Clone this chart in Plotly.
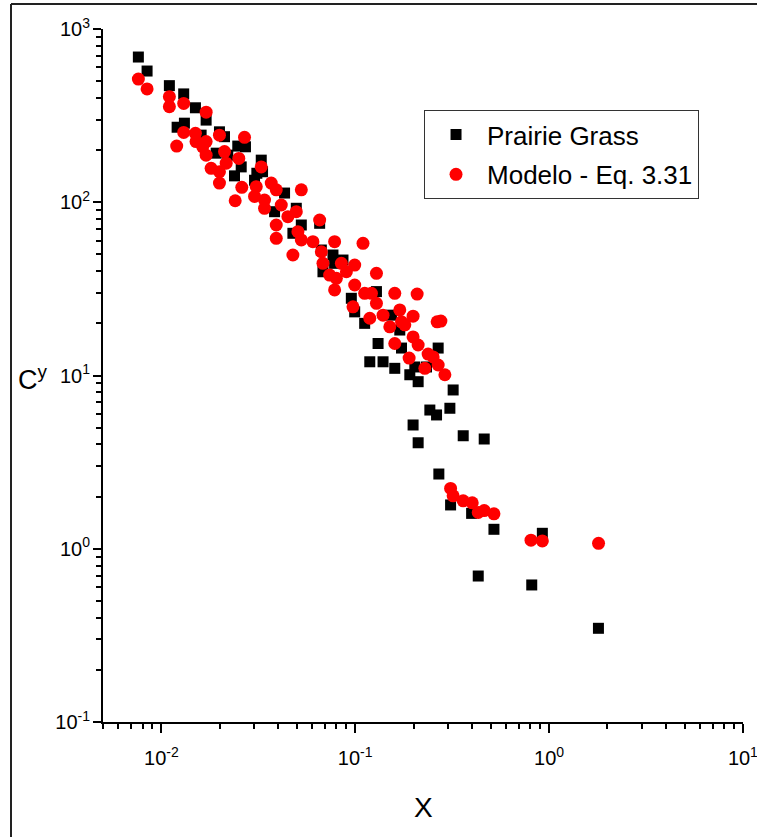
import math
import plotly.graph_objects as go

# ---- data ----
prairie_x = [0.00761, 0.00844, 0.0110, 0.01304, 0.01499, 0.01702, 0.01206, 0.01315,
             0.01994, 0.02117, 0.01604, 0.01918, 0.02479, 0.02716, 0.02201, 0.02582,
             0.02384, 0.03276, 0.03109, 0.03025, 0.03327, 0.04321, 0.03837, 0.04967,
             0.05272, 0.04771, 0.06555, 0.06688, 0.06818, 0.07678, 0.0865, 0.0955,
             0.1287, 0.0783, 0.0994, 0.1119, 0.1538, 0.1698, 0.1312, 0.1189,
             0.1392, 0.160, 0.1733, 0.1913, 0.2112, 0.203, 0.2333, 0.2679,
             0.3201, 0.2427, 0.2628, 0.3079, 0.1989, 0.2112, 0.3607, 0.4629,
             0.2701, 0.3105, 0.3986, 0.5197, 0.9235, 0.4312, 0.8141, 1.798]
prairie_y = [689, 572, 471, 422, 351, 298, 271, 286,
             255, 239, 244, 192, 211, 209, 187, 160,
             142, 175, 147, 134, 150, 113, 88.2, 92.3,
             73.9, 66.2, 75.6, 53.0, 39.7, 49.6, 46.4, 27.9,
             30.5, 44.4, 23.3, 20.0, 22.3, 18.3, 15.3, 12.0,
             12.0, 11.0, 14.4, 10.1, 9.21, 11.2, 11.2, 14.4,
             8.25, 6.32, 5.92, 6.47, 5.18, 4.09, 4.49, 4.30,
             2.70, 1.79, 1.60, 1.295, 1.228, 0.696, 0.618, 0.3474]

modelo_x = [0.00761, 0.00844, 0.0110, 0.0110, 0.01304, 0.01702, 0.01304, 0.0120,
            0.01499, 0.0151, 0.01702, 0.01634, 0.01994, 0.01702, 0.01806, 0.01994,
            0.02117, 0.0216, 0.01994, 0.02685, 0.02509, 0.0260, 0.02404, 0.03276,
            0.03087, 0.03025, 0.03406, 0.03406, 0.03688, 0.03915, 0.05272, 0.04156,
            0.04494, 0.04967, 0.03915, 0.03915, 0.05063, 0.05272, 0.04771, 0.06555,
            0.06051, 0.06688, 0.06818, 0.0783, 0.07382, 0.07995, 0.0783, 0.08485,
            0.09006, 0.0994, 0.1097, 0.0994, 0.1119, 0.1287, 0.1213, 0.1287,
            0.0974, 0.1189, 0.1392, 0.160, 0.2087, 0.1698, 0.1989, 0.1508,
            0.1733, 0.1803, 0.160, 0.1989, 0.2112, 0.2647, 0.2767, 0.1897,
            0.2377, 0.2524, 0.2287, 0.2679, 0.2901, 0.3105, 0.3201, 0.3607,
            0.4015, 0.4312, 0.4629, 0.5197, 0.807, 0.9235, 1.80]
modelo_y = [514, 451, 407, 356, 372, 331, 253, 211,
            250, 224, 224, 209, 244, 187, 157, 150,
            196, 168, 129, 237, 179, 122, 102, 160,
            123, 108, 103, 92.3, 129, 118, 118, 96.4,
            82.5, 88.2, 73.9, 61.9, 67.6, 60.6, 49.6, 79.0,
            59.2, 51.8, 44.4, 59.2, 38.0, 36.4, 31.2, 44.4,
            39.7, 43.4, 57.9, 33.3, 29.8, 38.9, 29.8, 26.1,
            24.9, 21.4, 22.3, 29.8, 29.5, 23.9, 22.0, 19.1,
            20.4, 19.6, 15.3, 16.7, 15.0, 20.4, 20.6, 12.6,
            13.3, 12.8, 11.0, 11.5, 10.1, 2.23, 2.02, 1.89,
            1.84, 1.62, 1.66, 1.59, 1.12, 1.11, 1.075]

series_names = ["Prairie Grass", "Modelo - Eq. 3.31"]
x_major = [0.01, 0.1, 1, 10]
x_major_text = ["10<sup>-2</sup>", "10<sup>-1</sup>", "10<sup>0</sup>", "10<sup>1</sup>"]
y_major = [0.1, 1, 10, 100, 1000]
y_major_text = ["10<sup>-1</sup>", "10<sup>0</sup>", "10<sup>1</sup>", "10<sup>2</sup>", "10<sup>3</sup>"]
x_title = "X"
y_title = "C<sup>y</sup>"

x_minor = [k * 10.0 ** e for e in range(-3, 1) for k in range(2, 10)]
y_minor = [k * 10.0 ** e for e in range(-1, 3) for k in range(2, 10)]

FONT = "Liberation Sans, Arial, sans-serif"

fig = go.Figure()
fig.add_trace(go.Scatter(
    x=prairie_x, y=prairie_y, mode="markers", name=series_names[0],
    marker=dict(symbol="square", size=11, color="black", line=dict(width=0)),
    legendgroup="a"))
fig.add_trace(go.Scatter(
    x=modelo_x, y=modelo_y, mode="markers", name=series_names[1],
    marker=dict(symbol="circle", size=13, color="#ff0000", line=dict(width=0)),
    legendgroup="b"))

axis_common = dict(
    type="log", showline=True, linecolor="black", linewidth=2,
    ticks="outside", tickwidth=1.6, tickcolor="black",
    showgrid=False, zeroline=False, mirror=False, automargin=False,
    ticklabeloverflow="allow",
    tickfont=dict(family=FONT, size=20, color="black"),
    minor=dict(ticks="outside", ticklen=5, tickwidth=1.6, tickcolor="black", showgrid=False),
)

fig.update_layout(
    width=757, height=837,
    margin=dict(l=103, r=14, t=29, b=115),
    paper_bgcolor="white", plot_bgcolor="white",
    font=dict(family=FONT, color="black"),
    xaxis=dict(axis_common, range=[math.log10(0.005), 1.0005], ticklen=9,
               ticklabelstandoff=8,
               tickmode="array", tickvals=x_major, ticktext=x_major_text),
    yaxis=dict(axis_common, range=[-1, 3], ticklen=8,
               ticklabelstandoff=-1,
               tickmode="array", tickvals=y_major, ticktext=y_major_text),
    legend=dict(x=0.5016, y=0.883, xanchor="left", yanchor="top",
                bgcolor="white", bordercolor="#333333", borderwidth=1,
                font=dict(family=FONT, size=26, color="black"),
                itemwidth=52, tracegroupgap=3, traceorder="grouped"),
    showlegend=True,
)
fig.update_xaxes(minor_tickvals=x_minor)
fig.update_yaxes(minor_tickvals=y_minor)

fig.add_annotation(text=x_title, xref="paper", yref="paper", x=0.5, y=-0.124,
                   showarrow=False, xanchor="center", yanchor="middle",
                   font=dict(family=FONT, size=28, color="black"))
fig.add_annotation(text=y_title, xref="paper", yref="paper", x=-0.109, y=0.496,
                   showarrow=False, xanchor="center", yanchor="middle",
                   font=dict(family=FONT, size=27, color="black"))

# outer frame of the original figure (top and left edges)
fig.add_shape(type="line", xref="paper", yref="paper", x0=-0.14375, x1=1.1,
              y0=1.0361, y1=1.0361, line=dict(color="#222222", width=2))
fig.add_shape(type="line", xref="paper", yref="paper", x0=-0.14375, x1=-0.14375,
              y0=-0.2, y1=1.0361, line=dict(color="#222222", width=2))

fig.write_html(
    "out.html",
    config={"displayModeBar": False},
    post_script="document.body.style.margin='0';document.body.style.overflow='hidden';",
)
